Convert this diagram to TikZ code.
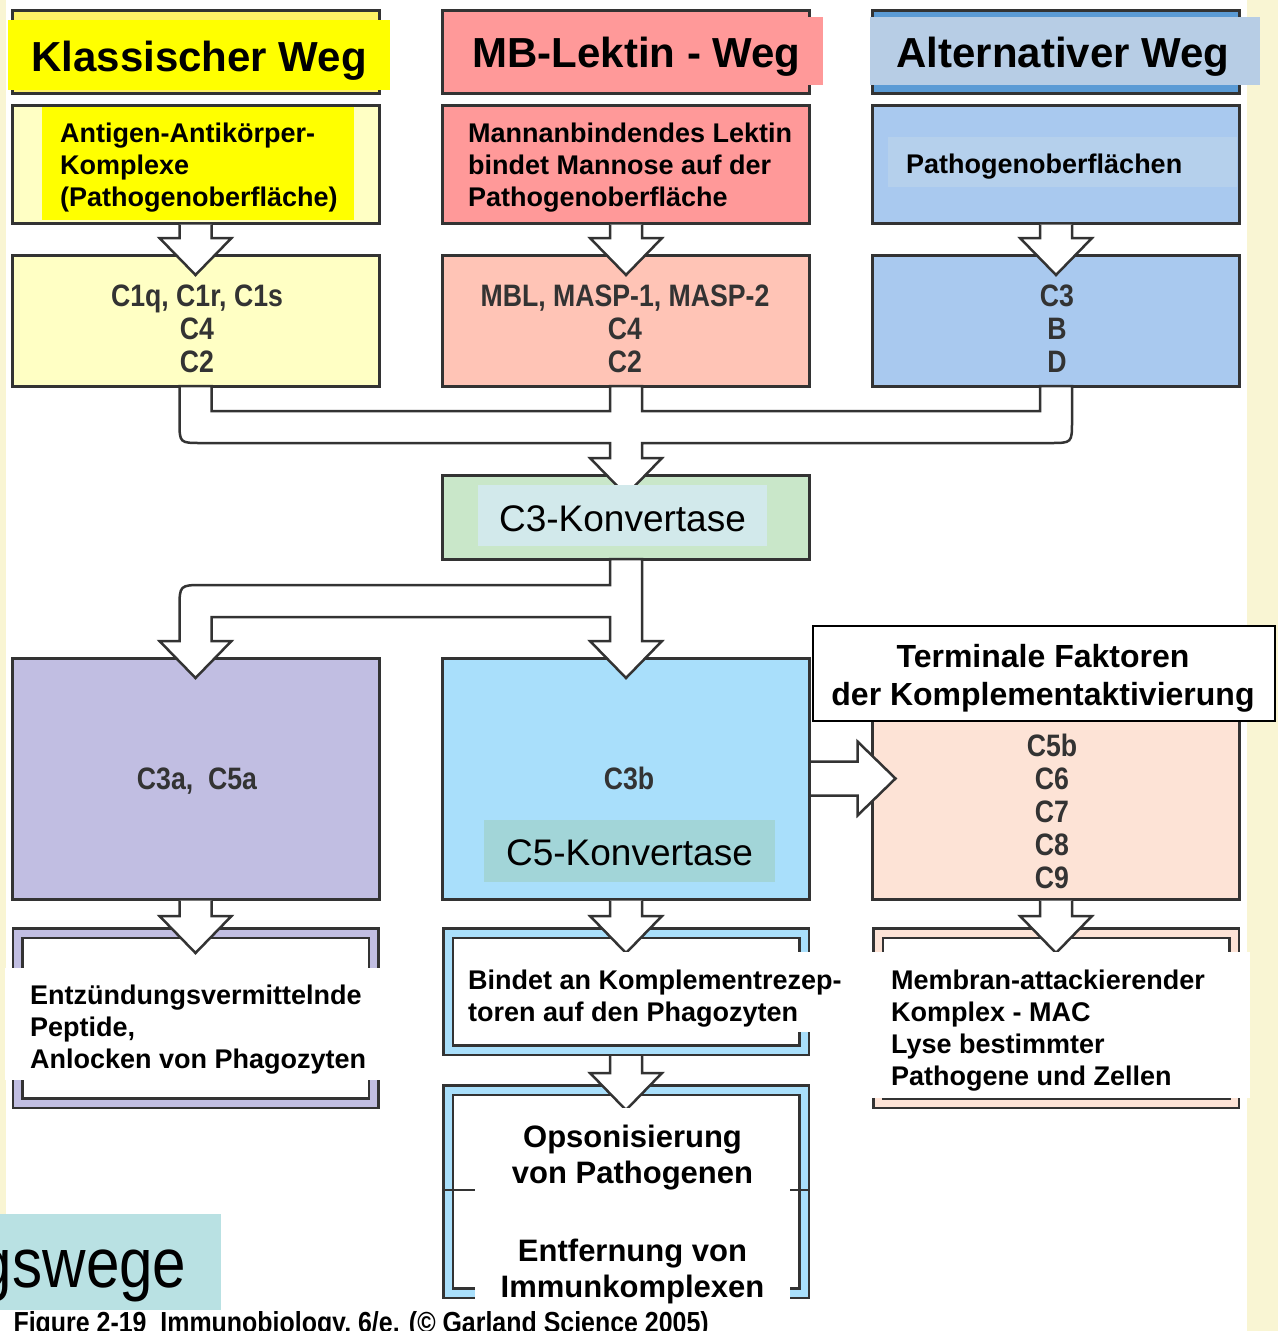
\documentclass[tikz,border=0pt]{standalone}
\usepackage{fontspec}
\setmainfont{Liberation Sans}
\newfontfamily\narrowfont[FakeStretch=0.86]{Liberation Sans}
\usetikzlibrary{calc}

\definecolor{linec}{HTML}{333333}
\definecolor{yelA}{HTML}{FFFF00}
\definecolor{yelB}{HTML}{FFFFC4}
\definecolor{yelT}{HTML}{FFF266}
\definecolor{salA}{HTML}{FF9999}
\definecolor{salB}{HTML}{FFC4B6}
\definecolor{bluA}{HTML}{5B9BD5}
\definecolor{bluT}{HTML}{B7CDE5}
\definecolor{bluB}{HTML}{A9C9EF}
\definecolor{bluP}{HTML}{B5D0EC}
\definecolor{grnA}{HTML}{C9E7C9}
\definecolor{grnP}{HTML}{D2E9EB}
\definecolor{lavA}{HTML}{C1BEE2}
\definecolor{skyA}{HTML}{A9DFFB}
\definecolor{tealP}{HTML}{A2D5D8}
\definecolor{pchA}{HTML}{FDE3D6}
\definecolor{cream}{HTML}{F9F5D3}
\definecolor{tealG}{HTML}{B9E1E3}

% hollow arrow pointing down from one box into the next
\newcommand{\hollowdown}[3][1.5]{%
	\draw[hollow] ($(#2.south)+(-16,#1)$) -- ($(#2.south|-#3.north)+(-16,-17)$) -- ++(-20,0)
		-- ($(#2.south|-#3.north)+(0,20)$) -- ($(#2.south|-#3.north)+(36,-17)$) -- ++(-20,0)
		-- ($(#2.south)+(16,#1)$);
}

\begin{document}
\begin{tikzpicture}[x=1pt, y=-1pt,
	frame/.style={
		rectangle,
		draw=linec,
		line width=3pt,
		minimum width=367pt,
		inner sep=0pt,
		outer sep=0pt
	},
	ring/.style={
		rectangle,
		draw=linec,
		line width=2.5pt,
		double distance=7pt,
		fill=white,
		minimum width=356pt,
		inner sep=0pt,
		outer sep=0pt
	},
	patch/.style={
		rectangle,
		inner sep=0pt,
		outer sep=0pt
	},
	hollow/.style={
		draw=linec,
		line width=2.5pt,
		fill=white,
		line join=miter
	},
	titletext/.style={inner sep=0pt, font=\bfseries\fontsize{42}{48}\selectfont},
	bodytext/.style={anchor=west, inner sep=0pt, align=left, font=\bfseries\fontsize{27}{32}\selectfont},
	parts/.style={align=center, text=linec, font=\narrowfont\bfseries\fontsize{31}{33}\selectfont},
	konv/.style={inner sep=0pt, font=\fontsize{37}{40}\selectfont},
]

\useasboundingbox (0,0) rectangle (1278,1331);
\clip (0,0) rectangle (1278,1331);

% Background
\fill[cream] (0,0) rectangle (6,1215);
\fill[cream] (1247,0) rectangle (1278,1331);

% Titles
\node[frame, fill=yelT, minimum height=83] (k1) at (195.5,51.5) {};
\node[frame, fill=salA, minimum height=83] (l1) at (626,51.5) {};
\node[frame, fill=bluA, minimum height=83] (a1) at (1056,51.5) {};

% Row 2
\node[frame, fill=yelB, minimum height=118] (k2) at (195.5,164) {};
\node[frame, fill=salA, minimum height=118] (l2) at (626,164) {};
\node[frame, fill=bluB, minimum height=118] (a2) at (1056,164) {};

% Row 3
\node[frame, fill=yelB, minimum height=131] (k3) at (195.5,320.5) {};
\node[frame, fill=salB, minimum height=131] (l3) at (626,320.5) {};
\node[frame, fill=bluB, minimum height=131] (a3) at (1056,320.5) {};

% C3-Konvertase
\node[frame, fill=grnA, minimum height=84] (kon) at (626,517) {};

% Row 5
\node[frame, fill=lavA, minimum height=241] (c3a) at (195.5,778.5) {};
\node[frame, fill=skyA, minimum height=241] (c3b) at (626,778.5) {};
\node[frame, fill=pchA, minimum height=199] (mac) at (1056,799.5) {};

% Row 6
\node[ring, double=lavA, minimum height=170] (ent) at (195.5,1018) {};
\node[ring, double=skyA, minimum height=117] (bin) at (626,991.5) {};
\node[ring, double=skyA, minimum height=203] (ops) at (626,1191.5) {};
\node[ring, double=pchA, minimum height=170] (lys) at (1056,1018) {};
\draw[linec, line width=2.5pt] ($(ops.west)+(-5,-1.5)$) -- ($(ops.east)+(5,-1.5)$);

% Arrows
\hollowdown{k2}{k3}
\hollowdown{l2}{l3}
\hollowdown{a2}{a3}

% Merge into C3-Konvertase
\draw[hollow] ($(k3.south)+(-16,0)$) -- ($(k3.south)+(-16,35)$)
	.. controls ($(k3.south)+(-16,57)$) .. ($(k3.south)+(6,57)$)
	-- ($(l3.south)+(-16,57)$) -- ($(l3.south|-kon.north)+(-16,-17)$) -- ++(-20,0)
	-- ($(l3.south|-kon.north)+(0,20)$) -- ($(l3.south|-kon.north)+(36,-17)$) -- ++(-20,0)
	-- ($(l3.south)+(16,57)$) -- ($(a3.south)+(-6,57)$)
	.. controls ($(a3.south)+(16,57)$) .. ($(a3.south)+(16,35)$)
	-- ($(a3.south)+(16,0)$) -- ($(a3.south)+(-16,0)$) -- ($(a3.south)+(-16,25)$)
	-- ($(l3.south)+(16,25)$) -- ($(l3.south)+(16,0)$) -- ($(l3.south)+(-16,0)$)
	-- ($(l3.south)+(-16,25)$) -- ($(k3.south)+(16,25)$) -- ($(k3.south)+(16,0)$) -- cycle;

% Split out of C3-Konvertase
\draw[hollow] ($(kon.south)+(-16,0)$) -- ($(kon.south)+(-16,26)$) -- ($(c3a.north)+(8,-73)$)
	.. controls ($(c3a.north)+(-16,-73)$) .. ($(c3a.north)+(-16,-49)$)
	-- ($(c3a.north)+(-16,-17)$) -- ++(-20,0) -- ($(c3a.north)+(0,20)$) -- ($(c3a.north)+(36,-17)$) -- ++(-20,0)
	-- ($(c3a.north)+(16,-41)$) -- ($(c3b.north)+(-16,-41)$) -- ($(c3b.north)+(-16,-17)$) -- ++(-20,0)
	-- ($(c3b.north)+(0,20)$) -- ($(c3b.north)+(36,-17)$) -- ++(-20,0) -- ($(kon.south)+(16,0)$) -- cycle;

% C3b to terminal factors
\draw[hollow] ($(c3b.east)+(1.5,-17)$) -- ($(c3b.east-|mac.west)+(-15,-17)$) -- ++(0,-20)
	-- ($(c3b.east-|mac.west)+(23,0)$) -- ($(c3b.east-|mac.west)+(-15,37)$) -- ++(0,-20)
	-- ($(c3b.east)+(1.5,17)$);

\hollowdown{c3a}{ent}
\hollowdown{c3b}{bin}
\hollowdown{mac}{lys}
\hollowdown[6]{bin}{ops}

% Title patches and texts
\node[patch, fill=yelA, minimum width=382, minimum height=70] (kp1) at (199,55) {};
\node[patch, fill=salA, minimum width=373, minimum height=68] (lp1) at (636.5,51) {};
\node[patch, fill=bluT, minimum width=390, minimum height=68] (ap1) at (1065,51) {};
\node[titletext] (kt) at (199,61) {Klassischer Weg};
\node[titletext] (lt) at (636.5,57) {MB-Lektin - Weg};
\node[titletext] (at) at (1063,57) {Alternativer Weg};

% Triggers
\node[patch, fill=yelA, minimum width=312, minimum height=113] (kp2) at (198,163.5) {};
\node[patch, fill=bluP, minimum width=349, minimum height=50] (ap2) at (1062.5,162) {};
\node[bodytext] (kt2) at (60,167.5) {Antigen-Antikörper-\\Komplexe\\(Pathogenoberfläche)};
\node[bodytext] (lt2) at (468,168) {Mannanbindendes Lektin\\bindet Mannose auf der\\Pathogenoberfläche};
\node[bodytext] (at2) at (906,167) {Pathogenoberflächen};

% Components
\node[parts] (kt3) at (197,329) {C1q, C1r, C1s\\C4\\C2};
\node[parts] (lt3) at (625,329) {MBL, MASP-1, MASP-2\\C4\\C2};
\node[parts] (at3) at (1057,329) {C3\\B\\D};
\node[patch, fill=grnP, minimum width=289, minimum height=61] (konp) at (622.5,515.5) {};
\node[konv] (kont) at (622.5,518.5) {C3-Konvertase};
\node[parts] (c3at) at (197,781) {C3a,\ \ C5a};
\node[parts] (c3bt) at (629,778) {C3b};
\node[patch, fill=tealP, minimum width=291, minimum height=62] (c5p) at (629.5,851) {};
\node[konv] (c5t) at (629.5,853) {C5-Konvertase};
\node[parts] (mact) at (1052,811) {C5b\\C6\\C7\\C8\\C9};
\node[rectangle, draw=black, fill=white, line width=2pt, minimum width=462, minimum height=95] (term) at (1044,673.5) {};
\node[align=center, inner sep=0pt, font=\bfseries\fontsize{32}{38}\selectfont] (termt) at (1043,678.5)
	{Terminale Faktoren\\der Komplementaktivierung};

% Effects
\node[patch, fill=white, minimum width=376, minimum height=112] (entp) at (193,1024) {};
\node[patch, fill=white, minimum width=385, minimum height=80] (binp) at (647.5,992) {};
\node[patch, fill=white, minimum width=380, minimum height=146] (lysp) at (1060,1025) {};
\node[patch, fill=white, minimum width=315, minimum height=196] (opsp) at (632.5,1206) {};
\node[bodytext] (entt) at (30,1030) {Entzündungsvermittelnde\\Peptide,\\Anlocken von Phagozyten};
\node[bodytext] (bint) at (468,999) {Bindet an Komplementrezep-\\toren auf den Phagozyten};
\node[bodytext] (lyst) at (891,1031) {Membran-attackierender\\Komplex - MAC\\Lyse bestimmter\\Pathogene und Zellen};
\node[align=center, inner sep=0pt, font=\bfseries\fontsize{31}{36}\selectfont] (opst) at (632.5,1214)
	{Opsonisierung\\von Pathogenen\\[42pt]Entfernung von\\Immunkomplexen};

% Slide remnants
\node[patch, fill=tealG, minimum width=221, minimum height=96, anchor=north west] (sub) at (0,1214) {};
\node[anchor=base east, font=\narrowfont\fontsize{70}{80}\selectfont] (subt) at (190,1287) {gswege};
\node[anchor=base west, font=\narrowfont\bfseries\fontsize{29}{34}\selectfont] (cap) at (10,1332)
	{Figure 2-19\ \ Immunobiology, 6/e. (© Garland Science 2005)};

\end{tikzpicture}
\end{document}
